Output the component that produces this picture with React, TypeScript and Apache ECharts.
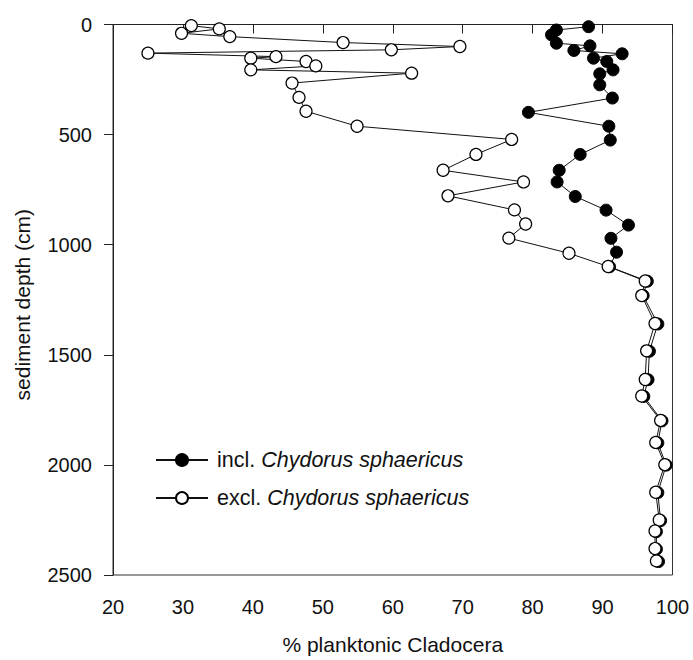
import React, { useEffect, useRef } from "react";
import * as echarts from "echarts";

// % planktonic Cladocera, including Chydorus sphaericus (filled circles)
const inclPct = [
  88.0, 83.4, 82.7, 83.4, 88.2, 85.9, 92.8, 88.7, 90.6, 91.5, 89.6, 89.6, 91.4,
  79.4, 90.9, 91.1, 86.8, 83.8, 83.5, 86.1, 90.5, 93.7, 91.2, 92.0, 91.0, 96.4,
  95.8, 97.9, 96.7, 96.5, 95.9, 98.5, 97.9, 99.1, 97.9, 98.3, 97.7, 97.7, 98.0,
];
const inclDepth = [
  10, 25, 47, 85, 97, 118, 133, 153, 168, 206, 224, 274, 334,
  399, 462, 525, 590, 662, 715, 781, 843, 911, 971, 1034, 1100, 1166,
  1231, 1360, 1484, 1613, 1689, 1800, 1900, 2001, 2126, 2253, 2303, 2383, 2439,
];

// % planktonic Cladocera, excluding Chydorus sphaericus (open circles)
const exclPct = [
  31.2, 35.2, 29.8, 36.7, 52.9, 69.6, 59.8, 25.0, 43.3, 39.7, 47.6, 49.0, 39.7,
  62.7, 45.6, 46.6, 47.6, 54.9, 77.0, 71.9, 67.2, 78.7, 67.9, 77.4, 79.0, 76.6,
  85.2, 90.8, 96.1, 95.6, 97.5, 96.3, 96.1, 95.6, 98.3, 97.6, 98.9, 97.6, 98.1,
  97.5, 97.5, 97.7,
];
const exclDepth = [
  5, 20, 40, 55, 82, 100, 115, 130, 146, 153, 168, 188, 206,
  221, 266, 331, 394, 462, 522, 590, 662, 715, 778, 842, 906, 970,
  1039, 1099, 1165, 1231, 1358, 1482, 1612, 1687, 1798, 1898, 1999, 2124, 2250,
  2300, 2380, 2436,
];

const xTicks = { min: 20, max: 100, interval: 10 };
const yTicks = { min: 0, max: 2500, interval: 500 };

const inclName = "incl. Chydorus sphaericus";
const exclName = "excl. Chydorus sphaericus";

const FONT = "'Liberation Sans', Arial, Helvetica, sans-serif";

export default function App() {
  const ref = useRef<HTMLDivElement>(null);

  useEffect(() => {
    if (!ref.current) return;
    const chart = echarts.init(ref.current, null, { renderer: "svg" });
    const inclData = inclPct.map((v, i) => [v, inclDepth[i]]);
    const exclData = exclPct.map((v, i) => [v, exclDepth[i]]);

    chart.setOption({
      animation: false,
      backgroundColor: "#fff",
      grid: {
        left: 113,
        top: 24.5,
        right: 20.5,
        bottom: 82.5,
        show: true,
        borderColor: "#333",
        borderWidth: 1,
        backgroundColor: "transparent",
      },
      legend: {
        orient: "vertical",
        left: 150,
        top: 444,
        itemWidth: 52,
        itemHeight: 15,
        itemGap: 16,
        data: [inclName, exclName],
        formatter: (name: string) => {
          const parts = name.split(" ");
          return `{n|${parts[0]}} {i|${parts.slice(1).join(" ")}}`;
        },
        textStyle: {
          fontFamily: FONT,
          fontSize: 21.5,
          color: "#111",
          padding: [0, 0, 0, 4],
          rich: {
            n: { fontFamily: FONT, fontSize: 21.5, color: "#111" },
            i: { fontFamily: FONT, fontSize: 21.5, color: "#111", fontStyle: "italic" },
          },
        },
      },
      xAxis: {
        type: "value",
        min: xTicks.min,
        max: xTicks.max,
        interval: xTicks.interval,
        name: "% planktonic Cladocera",
        nameLocation: "middle",
        nameGap: 59,
        nameTextStyle: { fontFamily: FONT, fontSize: 21, color: "#111" },
        axisLine: { show: true, lineStyle: { color: "#222", width: 1 } },
        axisTick: { show: true, length: 9, lineStyle: { color: "#222" } },
        axisLabel: { fontFamily: FONT, fontSize: 20, color: "#111", margin: 22 },
        splitLine: { show: false },
      },
      yAxis: {
        type: "value",
        inverse: true,
        min: yTicks.min,
        max: yTicks.max,
        interval: yTicks.interval,
        name: "sediment depth (cm)",
        nameLocation: "middle",
        nameRotate: 90,
        nameGap: 80,
        nameTextStyle: {
          fontFamily: FONT,
          fontSize: 21,
          color: "#111",
          padding: [0, 10, 0, 0],
        },
        axisLine: { show: true, lineStyle: { color: "#222", width: 1 } },
        axisTick: { show: true, length: 9, lineStyle: { color: "#222" } },
        axisLabel: {
          fontFamily: FONT,
          fontSize: 20,
          color: "#111",
          margin: 21,
          formatter: (v: number) => String(v),
        },
        splitLine: { show: false },
      },
      series: [
        {
          name: inclName,
          type: "line",
          data: inclData,
          symbol: "circle",
          symbolSize: 12,
          showAllSymbol: true,
          lineStyle: { color: "#111", width: 1 },
          itemStyle: { color: "#000", borderColor: "#000", borderWidth: 1 },
          emphasis: { disabled: true },
          z: 2,
        },
        {
          name: exclName,
          type: "line",
          data: exclData,
          symbol: "circle",
          symbolSize: 12,
          showAllSymbol: true,
          lineStyle: { color: "#111", width: 1 },
          itemStyle: { color: "#fff", borderColor: "#000", borderWidth: 1.2 },
          emphasis: { disabled: true },
          z: 3,
        },
      ],
    });
    return () => chart.dispose();
  }, []);

  return (
    <div
      ref={ref}
      style={{ position: "absolute", left: 0, top: 0, width: 693, height: 660 }}
    />
  );
}
